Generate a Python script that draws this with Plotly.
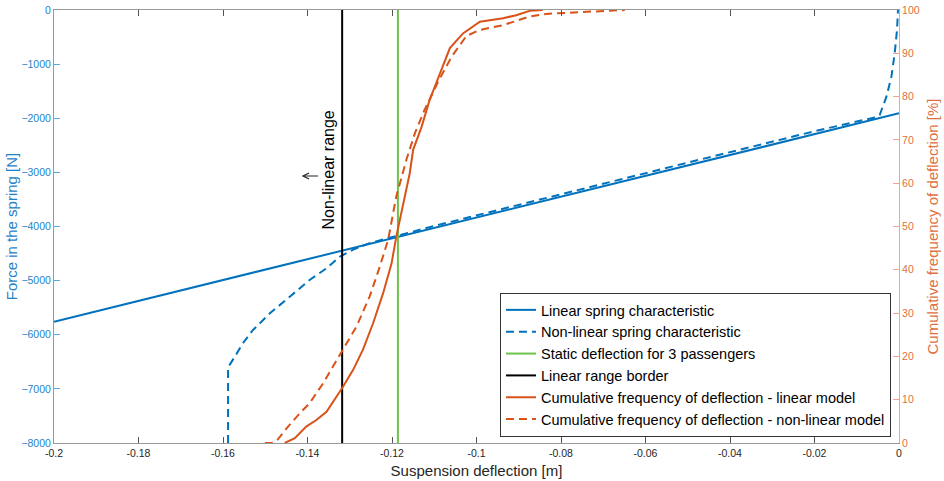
import plotly.graph_objects as go

# ---- data ----
lin_x = [-0.2, 0.0]
lin_F = [-5759, -1909]

nl_x = [-0.1588, -0.1588, -0.1572, -0.1553, -0.1529, -0.1489, -0.1442, -0.1395, -0.1355,
        -0.1324, -0.1290, -0.1250, -0.1100, -0.0800, -0.0500, -0.0200, -0.0060,
        -0.00457, -0.00298, -0.0018, -0.00102, -0.00047, -0.00024]
nl_F = [-8000, -6600, -6405, -6158, -5912, -5604, -5297, -4988, -4773,
        -4560, -4420, -4300, -3990, -3400, -2820, -2240, -1990,
        -1940, -1602, -1232, -800, -370, 0]

static_x = -0.1186
border_x = -0.1318
vline_F = [-8000, 0]

cum_lin_x = [-0.1454, -0.1430, -0.1403, -0.1379, -0.1355, -0.1336, -0.1316, -0.1292,
             -0.1269, -0.1245, -0.1221, -0.1201, -0.1190, -0.1158, -0.1150, -0.1130,
             -0.1111, -0.1063, -0.1032, -0.0992, -0.0937, -0.0906, -0.0874, -0.0843]
cum_lin_p = [0.0, 1.1, 3.8, 5.3, 7.2, 9.9, 13.0, 16.9,
             21.5, 27.6, 34.6, 41.5, 47.6, 62.3, 67.7, 73.0,
             79.2, 91.2, 94.6, 97.3, 98.1, 98.8, 99.8, 100.0]

cum_nl_x = [-0.1501, -0.1485, -0.1470, -0.1446, -0.1418, -0.1395, -0.1363, -0.1340, -0.1316,
            -0.1284, -0.1253, -0.1229, -0.1209, -0.1190, -0.1166, -0.1146, -0.1123,
            -0.1091, -0.1059, -0.1024, -0.0992, -0.0937, -0.0874, -0.0835, -0.0756,
            -0.0677, -0.0649]
cum_nl_p = [0.0, 0.0, 0.85, 3.8, 6.9, 9.2, 13.8, 17.6, 21.5,
            26.9, 33.8, 40.7, 47.0, 56.9, 65.4, 71.5, 76.9,
            83.4, 89.2, 94.0, 95.4, 96.5, 98.5, 99.1, 99.5,
            99.9, 100.0]

x_ticks = [-0.2, -0.18, -0.16, -0.14, -0.12, -0.1, -0.08, -0.06, -0.04, -0.02, 0]
x_tick_labels = ["-0.2", "-0.18", "-0.16", "-0.14", "-0.12", "-0.1", "-0.08", "-0.06", "-0.04", "-0.02", "0"]

BLUE = "#0072BD"
ORANGE = "#D95319"
GREEN = "#6CC24A"
FONT = "Liberation Sans, Arial, sans-serif"

fig = go.Figure()
fig.add_trace(go.Scatter(x=lin_x, y=lin_F, mode="lines", name="Linear spring characteristic",
                         line=dict(color=BLUE, width=2)))
fig.add_trace(go.Scatter(x=nl_x, y=nl_F, mode="lines", name="Non-linear spring characteristic",
                         line=dict(color=BLUE, width=2, dash="8px,5px")))
fig.add_trace(go.Scatter(x=[static_x, static_x], y=vline_F, mode="lines",
                         name="Static deflection for 3 passengers",
                         line=dict(color=GREEN, width=2)))
fig.add_trace(go.Scatter(x=[border_x, border_x], y=vline_F, mode="lines",
                         name="Linear range border",
                         line=dict(color="black", width=2)))
fig.add_trace(go.Scatter(x=cum_lin_x, y=cum_lin_p, mode="lines", yaxis="y2",
                         name="Cumulative frequency of deflection - linear model",
                         line=dict(color=ORANGE, width=2)))
fig.add_trace(go.Scatter(x=cum_nl_x, y=cum_nl_p, mode="lines", yaxis="y2",
                         name="Cumulative frequency of deflection - non-linear model",
                         line=dict(color=ORANGE, width=2, dash="8px,5px")))

fig.add_annotation(x=-0.1348, y=-2956, xref="x", yref="y", text="Non-linear range",
                   textangle=-90, showarrow=False, font=dict(family=FONT, size=16, color="black"))
# small left-pointing arrow next to the label
fig.add_annotation(x=-0.1414, y=-3067, xref="x", yref="y", text="",
                   showarrow=True, arrowhead=5, arrowsize=1.2, arrowwidth=1,
                   arrowcolor="#222222", ax=18, ay=0, standoff=0)

fig.update_layout(
    width=944, height=481,
    margin=dict(l=54, r=45, t=10, b=38, autoexpand=False),
    paper_bgcolor="white", plot_bgcolor="white",
    font=dict(family=FONT, size=14, color="#262626"),
    showlegend=True,
    legend=dict(x=0.9905, y=0.014, xanchor="right", yanchor="bottom",
                bgcolor="white", bordercolor="#333333", borderwidth=1,
                font=dict(family=FONT, size=14.5, color="black"),
                tracegroupgap=0),
    xaxis=dict(range=[-0.2, 0], tickvals=x_ticks, ticktext=x_tick_labels,
               showline=True, linecolor="#999999", linewidth=1, mirror="ticks",
               ticks="inside", ticklen=6, tickcolor="#555555",
               showgrid=False, zeroline=False, automargin=False,
               tickfont=dict(family=FONT, size=10.5, color="#262626"),
               title=dict(text="Suspension deflection [m]", standoff=7,
                          font=dict(family=FONT, size=15, color="#262626"))),
    yaxis=dict(range=[-8000, 0], dtick=1000,
               showline=True, linecolor="#5AA9DF", linewidth=1,
               ticks="inside", ticklen=6, tickcolor="#5AA9DF",
               showgrid=False, zeroline=False, automargin=False,
               tickfont=dict(family=FONT, size=10.5, color="#1F82C8"),
               title=dict(text="Force in the spring [N]", standoff=0,
                          font=dict(family=FONT, size=15, color="#1F82C8"))),
    yaxis2=dict(range=[0, 100], dtick=10, overlaying="y", side="right",
                showline=True, linecolor="#F2A58A", linewidth=1,
                ticks="inside", ticklen=6, tickcolor="#F2A58A",
                showgrid=False, zeroline=False, automargin=False,
                tickfont=dict(family=FONT, size=10.5, color="#E07040"),
                title=dict(text="Cumulative frequency of deflection [%]", standoff=8,
                           font=dict(family=FONT, size=15, color="#E07040"))),
)

fig.write_html("out.html")
